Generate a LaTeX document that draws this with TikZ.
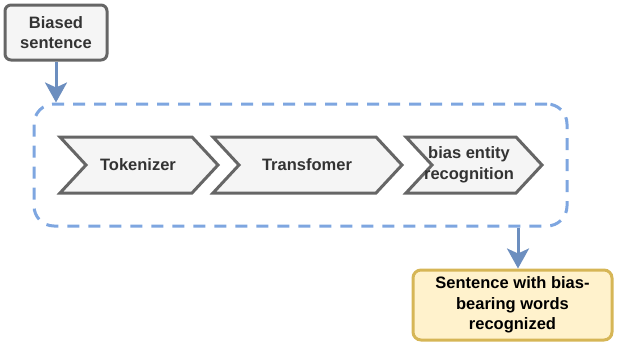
\documentclass[tikz,border=0pt]{standalone}
\usepackage{fontspec}
\setmainfont{Liberation Sans}
\usepackage{tikz}
\usetikzlibrary{arrows.meta}
\usetikzlibrary{calc}
\definecolor{flowblue}{HTML}{6C8EBF}
\definecolor{frameblue}{HTML}{7EA6E0}
\definecolor{boxgrey}{HTML}{666666}
\definecolor{boxfill}{HTML}{F5F5F5}
\definecolor{outfill}{HTML}{FFF2CC}
\definecolor{outline}{HTML}{D6B656}
\tikzset{
  lbl/.style={font=\bfseries\fontsize{16.5}{20.5}\selectfont, align=center, text=black!80},
  greybox/.style={draw=boxgrey, fill=boxfill, line width=3pt, rounded corners=6pt},
  flow/.style={-{Stealth[length=20pt,width=22pt,inset=5pt]}, draw=flowblue, line width=3pt},
}

\begin{document}
\begin{tikzpicture}[x=1pt, y=-1pt]
    \useasboundingbox (0,0) rectangle (621,343);

    % input and output
    \node[greybox, lbl, minimum width=102pt, minimum height=55pt, inner sep=0pt] (inp) at (56,32.5) {Biased\\sentence};
    \node[lbl, draw=outline, fill=outfill, line width=3pt, rounded corners=8pt,
          minimum width=199pt, minimum height=70pt, inner sep=0pt, text=black] (outp) at (512.5,305) {Sentence with bias-\\bearing words\\recognized};

    % dashed frame round the pipeline
    \node[draw=frameblue, line width=3pt, dash pattern=on 12pt off 9pt, rounded corners=20pt,
          minimum width=533pt, minimum height=122pt, inner sep=0pt] (pipe) at (300.5,165) {};

    % chevrons
    \begin{scope}[draw=boxgrey, fill=boxfill, line width=3pt, line join=miter]
      \filldraw (60,137) -- (192,137) -- (218,165) -- (192,193) -- (60,193) -- (86,165) -- cycle;
      \filldraw (213,137) -- (376,137) -- (402,165) -- (376,193) -- (213,193) -- (239,165) -- cycle;
      \filldraw (406,137) -- (516,137) -- (542,165) -- (516,193) -- (406,193) -- (432,165) -- cycle;
    \end{scope}
    \node[lbl] (tok) at (138,165) {Tokenizer};
    \node[lbl] (trf) at (307,165) {Transfomer};
    \node[lbl] (ber) at (469,165) {bias entity\\recognition};

    % arrows
    \draw[flow] (inp.south) -- (inp |- pipe.north);
    \coordinate (outtop) at ($(outp.north)+(5.5,0)$);
    \draw[flow] (outtop |- pipe.south) -- (outtop);
\end{tikzpicture}
\end{document}
